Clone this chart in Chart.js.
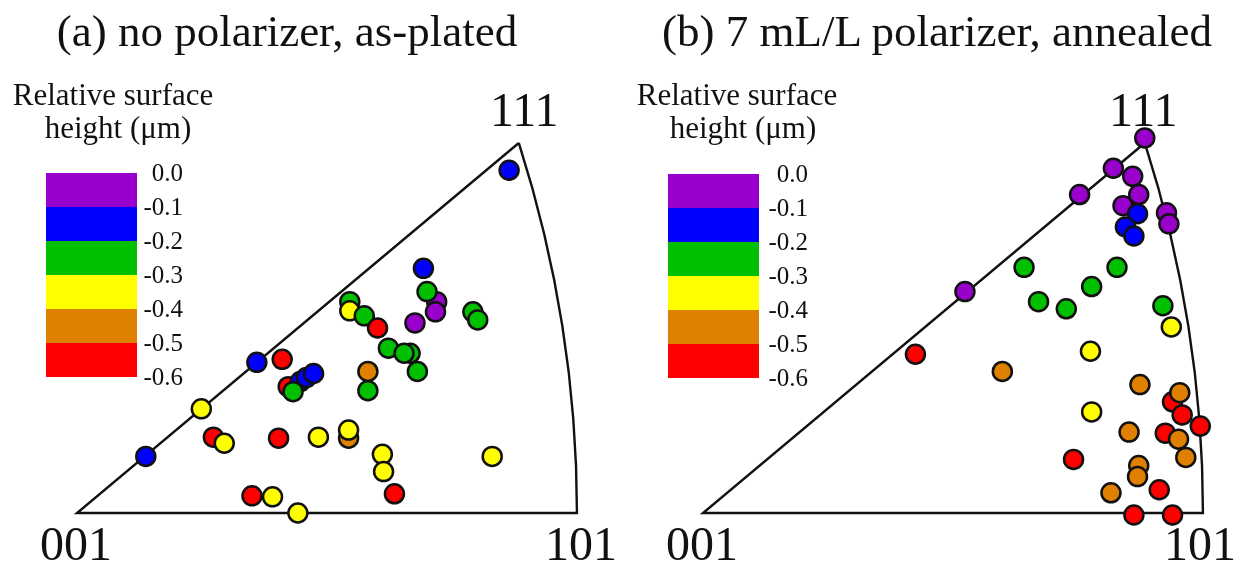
<!DOCTYPE html>
<html>
<head>
<meta charset="utf-8">
<script src="https://cdn.jsdelivr.net/npm/chart.js@4.4.1/dist/chart.umd.min.js"></script>
<style>
    html, body { margin: 0; padding: 0; background: #ffffff; }
    #wrap { position: relative; width: 1242px; height: 562px; overflow: hidden; font-family: "Liberation Serif", "Times New Roman", serif; color: #111; }
    canvas { position: absolute; top: 0; }
    .txt { position: absolute; line-height: 1; white-space: nowrap; }
    .swatch { position: absolute; }
</style>
</head>
<body>
<div id="wrap">
    <canvas id="ipf-a" width="621" height="562" style="left:0px"></canvas>
    <canvas id="ipf-b" width="621" height="562" style="left:621px"></canvas>
</div>
<script>
// Relative surface height legend (um)
const heightTicks = ['0.0', '-0.1', '-0.2', '-0.3', '-0.4', '-0.5', '-0.6'];
// bin 0 = 0.0..-0.1 (purple) ... bin 5 = -0.5..-0.6 (red)
const binColors = ['#9900cc', '#0000ff', '#00c000', '#ffff00', '#e08000', '#ff0000'];

// Standard triangle corners in stereographic coordinates
const cornerLabels = ['001', '101', '111'];
const cornerX = [0, 0.4142, 0.366];
const cornerY = [0, 0, 0.366];

// (a) no polarizer, as-plated
const asPlatedX = [0.358, 0.287, 0.298, 0.290, 0.297, 0.280, 0.226, 0.226, 0.238, 0.249,
    0.328, 0.332, 0.258, 0.276, 0.271, 0.282, 0.241, 0.241, 0.175, 0.185,
    0.190, 0.196, 0.179, 0.170, 0.149, 0.103, 0.057, 0.113, 0.122, 0.167,
    0.200, 0.225, 0.225, 0.253, 0.254, 0.263, 0.344, 0.145, 0.162, 0.183];
const asPlatedY = [0.339, 0.242, 0.209, 0.219, 0.199, 0.188, 0.209, 0.200, 0.195, 0.183,
    0.199, 0.191, 0.163, 0.158, 0.158, 0.140, 0.140, 0.121, 0.125, 0.130,
    0.134, 0.138, 0.120, 0.152, 0.149, 0.103, 0.056, 0.075, 0.069, 0.074,
    0.075, 0.074, 0.082, 0.058, 0.041, 0.019, 0.056, 0.017, 0.016, 0.000];
const asPlatedBin = [1, 1, 0, 2, 0, 0, 2, 3, 2, 5,
    2, 2, 2, 2, 2, 2, 4, 2, 5, 1,
    1, 1, 2, 5, 1, 3, 1, 5, 3, 5,
    3, 4, 3, 3, 3, 5, 3, 5, 3, 3];

// (b) 7 mL/L polarizer, annealed
const annealedX = [0.366, 0.340, 0.356, 0.312, 0.361, 0.348, 0.360, 0.350, 0.357, 0.384,
    0.386, 0.217, 0.266, 0.343, 0.322, 0.278, 0.301, 0.381, 0.388, 0.176,
    0.248, 0.321, 0.362, 0.389, 0.395, 0.397, 0.412, 0.322, 0.353, 0.383,
    0.394, 0.400, 0.307, 0.361, 0.360, 0.338, 0.378, 0.357, 0.389];
const annealedY = [0.371, 0.341, 0.333, 0.315, 0.315, 0.304, 0.296, 0.283, 0.274, 0.297,
    0.286, 0.219, 0.243, 0.243, 0.224, 0.209, 0.202, 0.205, 0.184, 0.157,
    0.140, 0.160, 0.127, 0.110, 0.119, 0.097, 0.086, 0.100, 0.080, 0.079,
    0.073, 0.055, 0.053, 0.047, 0.036, 0.020, 0.023, -0.002, -0.002];
const annealedBin = [0, 0, 0, 0, 0, 0, 1, 1, 1, 0,
    0, 0, 2, 2, 2, 2, 2, 2, 3, 5,
    4, 3, 4, 5, 4, 5, 5, 3, 4, 5,
    4, 4, 5, 4, 4, 4, 5, 5, 5];

// Layout: pixels per stereographic unit and where 001 sits on each canvas
const PX_PER_X = 1207;
const PX_PER_Y = 1011;
const BASE_Y = 513;
const CANVAS_W = 621;
const CANVAS_H = 562;

// Draws the triangle outline: two straight edges and the 101-111 great circle arc
const ipfFrame = {
    id: 'ipfFrame',
    beforeDatasetsDraw(chart) {
        const { ctx, scales } = chart;
        const xs = scales.x, ys = scales.y;
        const p = i => [xs.getPixelForValue(cornerX[i]), ys.getPixelForValue(cornerY[i])];
        const [x0, y0] = p(0), [x1, y1] = p(1), [x2, y2] = p(2);
        // great circle through 101 and 111: centre (-1, 0), radius sqrt(2)
        const cx = xs.getPixelForValue(-1), cy = ys.getPixelForValue(0);
        const rx = xs.getPixelForValue(Math.SQRT2 - 1) - cx;
        const ry = cy - ys.getPixelForValue(Math.SQRT2);
        const endAngle = Math.atan2(cornerY[2], cornerX[2] + 1);
        ctx.save();
        ctx.strokeStyle = '#111';
        ctx.lineWidth = 2.4;
        ctx.lineJoin = 'miter';
        ctx.beginPath();
        ctx.moveTo(x2, y2);
        ctx.lineTo(x0, y0);
        ctx.lineTo(x1, y1);
        ctx.ellipse(cx, cy, rx, ry, 0, 0, -endAngle, true);
        ctx.stroke();
        ctx.restore();
    }
};

function makeIPF(canvasId, xs, ys, bins, originPx) {
    const canvas = document.getElementById(canvasId);
    const ctx = canvas.getContext('2d');
    const points = xs.map((x, i) => ({ x: x, y: ys[i] }));

    return new Chart(ctx, {
        type: 'scatter',
        data: {
            datasets: [{
                data: points,
                backgroundColor: bins.map(b => binColors[b]),
                borderColor: '#111',
                borderWidth: 2.5,
                pointRadius: 9.5,
                pointHoverRadius: 9.5,
                clip: false
            }]
        },
        options: {
            responsive: false,
            animation: false,
            layout: { padding: 0, autoPadding: false },
            plugins: {
                legend: { display: false },
                tooltip: { enabled: false }
            },
            scales: {
                x: {
                    type: 'linear',
                    display: false,
                    min: -originPx / PX_PER_X,
                    max: (CANVAS_W - originPx) / PX_PER_X
                },
                y: {
                    type: 'linear',
                    display: false,
                    min: -(CANVAS_H - BASE_Y) / PX_PER_Y,
                    max: BASE_Y / PX_PER_Y
                }
            }
        },
        plugins: [ipfFrame]
    });
}

// Text and colour-bar legend as real HTML
function addText(text, left, top, size, align) {
    const d = document.createElement('div');
    d.className = 'txt';
    d.textContent = text;
    d.style.fontSize = size + 'px';
    d.style.top = top + 'px';
    if (align === 'center') {
        d.style.left = (left - 300) + 'px';
        d.style.width = '600px';
        d.style.textAlign = 'center';
    } else if (align === 'right') {
        d.style.left = (left - 200) + 'px';
        d.style.width = '200px';
        d.style.textAlign = 'right';
    } else {
        d.style.left = left + 'px';
    }
    document.getElementById('wrap').appendChild(d);
}

function addLegend(barLeft, barTop, labelRight, titleCenter1, titleCenter2) {
    const wrap = document.getElementById('wrap');
    const bandH = 34;
    binColors.forEach((c, i) => {
        const s = document.createElement('div');
        s.className = 'swatch';
        s.style.left = barLeft + 'px';
        s.style.top = (barTop + i * bandH) + 'px';
        s.style.width = '91px';
        s.style.height = bandH + 'px';
        s.style.background = c;
        wrap.appendChild(s);
    });
    heightTicks.forEach((t, i) => {
        addText(t, labelRight, barTop + i * bandH - 13, 25, 'right');
    });
    addText('Relative surface', titleCenter1, 79, 31, 'center');
    addText('height (\u03bcm)', titleCenter2, 112, 31, 'center');
}

function addPanelText(title, titleCenter, origin, shift) {
    addText(title, titleCenter, 9, 45, 'center');
    addText(cornerLabels[0], origin - 37, 520, 48);
    addText(cornerLabels[1], origin + 468 - shift, 520, 48);
    addText(cornerLabels[2], origin + 413 - shift, 86, 48);
}

makeIPF('ipf-a', asPlatedX, asPlatedY, asPlatedBin, 77);
makeIPF('ipf-b', annealedX, annealedY, annealedBin, 703 - CANVAS_W);

addLegend(46, 173, 183, 113, 118);
addLegend(668, 174, 808, 737, 743);
addPanelText('(a) no polarizer, as-plated', 287, 77, 0);
addPanelText('(b) 7 mL/L polarizer, annealed', 937, 703, 7);
</script>
</body>
</html>
